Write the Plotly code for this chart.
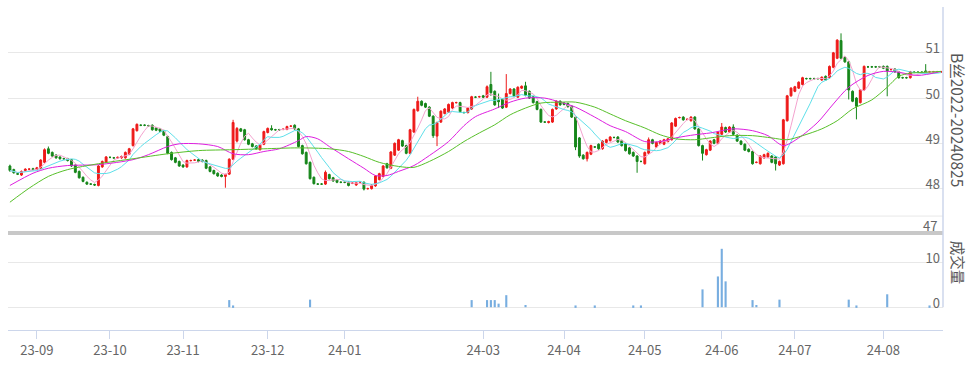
import plotly.graph_objects as go
import pandas as pd

# ---------------- data ----------------
month_labels = ["23-08", "23-09", "23-10", "23-11", "23-12", "24-01", "24-02",
                "24-03", "24-04", "24-05", "24-06", "24-07", "24-08"]
month_days = [7, 19, 19, 22, 20, 21, 15, 21, 21, 20, 19, 23, 16]
shown_months = ["23-09", "23-10", "23-11", "23-12", "24-01", "24-03",
                "24-04", "24-05", "24-06", "24-07", "24-08"]

opens = [48.50, 48.42, 48.33, 48.30, 48.40, 48.43, 48.44, 48.42, 48.45, 48.58,
         48.88, 48.80, 48.74, 48.70, 48.66, 48.66, 48.64, 48.52, 48.38, 48.25,
         48.14, 48.10, 48.09, 48.07, 48.48, 48.58, 48.69, 48.68, 48.68, 48.68,
         48.68, 48.76, 48.95, 49.28, 49.40, 49.40, 49.39, 49.40, 49.34, 49.32,
         49.28, 49.15, 48.80, 48.68, 48.60, 48.52, 48.48, 48.62, 48.63, 48.64,
         48.63, 48.62, 48.48, 48.40, 48.34, 48.30, 48.27, 48.32, 48.65, 49.05,
         49.32, 49.30, 49.08, 48.99, 48.94, 48.86, 48.98, 49.24, 49.33, 49.30,
         49.30, 49.31, 49.31, 49.38, 49.40, 49.32, 48.95, 48.80, 48.58, 48.25,
         48.10, 48.10, 48.10, 48.31, 48.24, 48.19, 48.14, 48.14, 48.14, 48.12,
         48.08, 48.14, 48.14, 48.00, 48.00, 48.06, 48.20, 48.27, 48.55, 48.45,
         48.74, 48.85, 49.06, 48.95, 48.78, 49.25, 49.72, 49.93, 49.88, 49.80,
         49.60, 49.16, 49.47, 49.66, 49.69, 49.78, 49.90, 49.90, 49.68, 49.68,
         49.76, 50.02, 50.03, 50.05, 50.02, 50.30, 50.15, 49.95, 49.98, 49.80,
         50.10, 50.20, 50.02, 50.22, 50.27, 50.15, 50.03, 49.92, 49.75, 49.47,
         49.46, 49.47, 49.76, 49.93, 49.89, 49.88, 49.82, 49.58, 49.12, 48.74,
         48.66, 48.76, 48.92, 48.98, 48.88, 49.02, 49.06, 49.13, 49.14, 49.06,
         48.99, 48.90, 48.80, 48.72, 48.60, 48.55, 48.78, 49.08, 48.92, 49.00,
         48.98, 49.04, 49.08, 49.38, 49.57, 49.58, 49.53, 49.50, 49.58, 49.32,
         48.95, 48.75, 48.85, 49.08, 49.00, 49.20, 49.35, 49.25, 49.36, 49.18,
         49.05, 48.98, 48.87, 48.82, 48.58, 48.55, 48.68, 48.70, 48.72, 48.70,
         48.52, 48.55, 49.50, 50.05, 50.15, 50.22, 50.30, 50.43, 50.43, 50.43,
         50.43, 50.40, 50.48, 50.45, 50.68, 50.88, 51.27, 50.90, 50.80, 50.15,
         50.00, 49.90, 50.18, 50.69, 50.69, 50.69, 50.69, 50.70, 50.70, 50.63,
         50.64, 50.58, 50.45, 50.45, 50.45, 50.57, 50.57, 50.57, 50.60, 50.58,
         50.58, 50.58, 50.58]

closes = [48.40, 48.35, 48.32, 48.38, 48.43, 48.43, 48.42, 48.46, 48.63, 48.86,
          48.78, 48.72, 48.68, 48.66, 48.66, 48.62, 48.50, 48.36, 48.24, 48.16,
          48.10, 48.10, 48.08, 48.50, 48.60, 48.70, 48.69, 48.68, 48.69, 48.71,
          48.80, 48.88, 49.32, 49.42, 49.40, 49.40, 49.39, 49.30, 49.29, 49.27,
          49.18, 48.78, 48.64, 48.58, 48.50, 48.48, 48.62, 48.62, 48.63, 48.60,
          48.60, 48.45, 48.38, 48.33, 48.28, 48.27, 48.31, 48.65, 49.46, 49.33,
          49.27, 49.08, 48.98, 48.93, 48.88, 48.96, 49.26, 49.33, 49.30, 49.30,
          49.30, 49.31, 49.37, 49.38, 49.32, 48.93, 48.77, 48.55, 48.22, 48.11,
          48.10, 48.10, 48.36, 48.22, 48.17, 48.14, 48.14, 48.14, 48.07, 48.12,
          48.13, 48.14, 47.99, 48.00, 48.08, 48.28, 48.33, 48.50, 48.46, 48.81,
          49.00, 49.08, 48.94, 48.78, 49.30, 49.75, 49.93, 49.84, 49.80, 49.60,
          49.17, 49.46, 49.71, 49.76, 49.86, 49.90, 49.90, 49.70, 49.68, 49.78,
          50.03, 50.02, 50.03, 50.02, 50.25, 50.12, 49.85, 49.92, 49.78, 50.10,
          50.20, 50.05, 50.24, 50.26, 50.06, 50.00, 49.90, 49.75, 49.47, 49.47,
          49.48, 49.75, 49.93, 49.85, 49.86, 49.81, 49.58, 48.92, 48.72, 48.66,
          48.80, 48.95, 48.92, 48.88, 49.05, 49.08, 49.14, 49.13, 49.03, 48.95,
          48.84, 48.77, 48.72, 48.60, 48.60, 48.80, 49.08, 49.00, 49.02, 49.05,
          49.08, 49.10, 49.45, 49.55, 49.57, 49.52, 49.53, 49.58, 49.32, 48.95,
          48.78, 48.86, 49.05, 49.00, 49.25, 49.36, 49.25, 49.36, 49.20, 49.05,
          48.98, 48.85, 48.82, 48.55, 48.58, 48.72, 48.75, 48.78, 48.58, 48.55,
          48.60, 49.52, 50.05, 50.22, 50.25, 50.35, 50.45, 50.43, 50.43, 50.43,
          50.43, 50.46, 50.40, 50.70, 51.00, 51.28, 50.88, 50.80, 50.18, 49.93,
          49.82, 50.18, 50.70, 50.69, 50.69, 50.69, 50.69, 50.66, 50.60, 50.63,
          50.58, 50.45, 50.45, 50.45, 50.58, 50.57, 50.57, 50.57, 50.57, 50.58,
          50.58, 50.58, 50.58]

highs = [48.53, 48.44, 48.35, 48.40, 48.45, 48.45, 48.46, 48.48, 48.65, 48.89,
         48.93, 48.82, 48.76, 48.71, 48.68, 48.68, 48.65, 48.53, 48.40, 48.27,
         48.16, 48.12, 48.11, 48.52, 48.62, 48.72, 48.71, 48.70, 48.71, 48.73,
         48.82, 48.90, 49.34, 49.44, 49.42, 49.42, 49.41, 49.42, 49.36, 49.34,
         49.30, 49.17, 48.82, 48.70, 48.62, 48.54, 48.64, 48.64, 48.65, 48.66,
         48.65, 48.64, 48.50, 48.42, 48.36, 48.32, 48.33, 48.67, 49.52, 49.36,
         49.34, 49.32, 49.10, 49.01, 48.96, 48.98, 49.28, 49.35, 49.40, 49.32,
         49.32, 49.33, 49.39, 49.40, 49.42, 49.34, 48.97, 48.82, 48.60, 48.27,
         48.12, 48.12, 48.40, 48.33, 48.26, 48.21, 48.16, 48.16, 48.16, 48.14,
         48.15, 48.16, 48.16, 48.02, 48.10, 48.30, 48.35, 48.52, 48.57, 48.83,
         49.02, 49.10, 49.08, 48.97, 49.32, 49.77, 50.03, 49.95, 49.90, 49.82,
         49.62, 49.48, 49.73, 49.78, 49.88, 49.92, 49.92, 49.92, 49.70, 49.80,
         50.05, 50.04, 50.05, 50.07, 50.28, 50.58, 50.17, 50.10, 50.00, 50.53,
         50.22, 50.22, 50.26, 50.28, 50.36, 50.17, 50.05, 49.94, 49.77, 49.49,
         49.50, 49.77, 49.95, 49.95, 49.91, 49.90, 49.84, 49.60, 49.14, 48.76,
         48.82, 48.97, 48.94, 49.00, 49.07, 49.10, 49.16, 49.15, 49.16, 49.08,
         49.01, 48.92, 48.82, 48.74, 48.62, 48.82, 49.13, 49.10, 49.04, 49.07,
         49.10, 49.12, 49.47, 49.57, 49.59, 49.60, 49.55, 49.60, 49.60, 49.34,
         48.97, 48.88, 49.07, 49.10, 49.27, 49.45, 49.37, 49.38, 49.42, 49.20,
         49.07, 49.00, 48.89, 48.84, 48.60, 48.74, 48.77, 48.80, 48.74, 48.72,
         48.62, 49.54, 50.07, 50.24, 50.27, 50.37, 50.47, 50.45, 50.45, 50.45,
         50.45, 50.48, 50.50, 50.72, 51.02, 51.30, 51.43, 50.92, 50.82, 50.17,
         50.02, 50.20, 50.72, 50.71, 50.71, 50.71, 50.71, 50.72, 50.72, 50.65,
         50.66, 50.60, 50.47, 50.47, 50.60, 50.59, 50.59, 50.59, 50.75, 50.60,
         50.60, 50.60, 50.60]

lows = [48.37, 48.33, 48.30, 48.28, 48.39, 48.42, 48.41, 48.41, 48.44, 48.56,
        48.76, 48.70, 48.66, 48.64, 48.64, 48.60, 48.48, 48.34, 48.22, 48.14,
        48.08, 48.08, 48.06, 48.05, 48.46, 48.56, 48.67, 48.66, 48.66, 48.66,
        48.66, 48.74, 48.93, 49.26, 49.38, 49.38, 49.37, 49.28, 49.27, 49.25,
        49.16, 48.76, 48.62, 48.56, 48.48, 48.46, 48.46, 48.60, 48.61, 48.58,
        48.58, 48.43, 48.36, 48.31, 48.26, 48.25, 48.02, 48.30, 48.63, 49.02,
        49.25, 49.06, 48.96, 48.91, 48.86, 48.84, 48.96, 49.22, 49.28, 49.28,
        49.28, 49.29, 49.29, 49.36, 49.30, 48.91, 48.75, 48.53, 48.20, 48.09,
        48.08, 48.08, 48.08, 48.20, 48.15, 48.12, 48.12, 48.12, 48.05, 48.10,
        48.06, 48.12, 47.96, 47.98, 47.98, 48.04, 48.18, 48.25, 48.44, 48.43,
        48.72, 48.83, 48.92, 48.76, 48.76, 49.23, 49.70, 49.82, 49.78, 49.58,
        49.12, 48.94, 49.45, 49.64, 49.67, 49.76, 49.88, 49.68, 49.66, 49.66,
        49.74, 50.00, 50.01, 50.00, 50.00, 50.05, 49.83, 49.78, 49.76, 49.78,
        50.08, 50.03, 50.00, 50.20, 50.04, 49.98, 49.88, 49.73, 49.45, 49.45,
        49.44, 49.45, 49.74, 49.83, 49.84, 49.79, 49.56, 48.85, 48.68, 48.64,
        48.60, 48.74, 48.90, 48.86, 48.86, 49.00, 49.04, 49.11, 49.01, 48.93,
        48.82, 48.75, 48.70, 48.35, 48.58, 48.53, 48.76, 48.98, 48.90, 48.98,
        48.96, 49.02, 49.06, 49.36, 49.55, 49.50, 49.51, 49.48, 49.30, 48.93,
        48.62, 48.73, 48.83, 48.98, 48.98, 49.18, 49.23, 49.23, 49.18, 49.03,
        48.96, 48.83, 48.80, 48.53, 48.56, 48.53, 48.66, 48.68, 48.56, 48.40,
        48.50, 48.53, 49.48, 50.03, 50.13, 50.20, 50.28, 50.41, 50.41, 50.41,
        50.41, 50.38, 50.38, 50.43, 50.66, 50.86, 50.86, 50.78, 49.97, 49.91,
        49.53, 49.88, 50.16, 50.67, 50.67, 50.67, 50.67, 50.64, 50.04, 50.61,
        50.56, 50.43, 50.43, 50.43, 50.43, 50.55, 50.55, 50.55, 50.55, 50.56,
        50.56, 50.56, 50.56]

# long moving averages (candle index, price)
ma20_idx = [0, 6, 10, 15, 23, 32, 36, 41, 44, 49, 54, 58, 62, 66, 70, 75, 77, 80,
            83, 88, 92, 95, 98, 101, 105, 109, 114, 118, 121, 126, 130, 134, 139,
            143, 147, 152, 156, 160, 165, 169, 173, 178, 182, 188, 193, 197, 201,
            205, 210, 214, 218, 223, 227, 231, 236, 242]
ma20_val = [48.07, 48.34, 48.45, 48.51, 48.53, 48.64, 48.75, 48.93, 48.99, 48.99,
            48.93, 48.77, 48.75, 48.82, 48.88, 49.06, 49.15, 49.10, 48.93, 48.66,
            48.45, 48.29, 48.29, 48.38, 48.51, 48.73, 49.04, 49.39, 49.59, 49.76,
            49.91, 50.00, 50.00, 49.91, 49.80, 49.58, 49.39, 49.26, 49.04, 49.04,
            49.12, 49.19, 49.23, 49.32, 49.28, 49.17, 48.95, 49.12, 49.47, 49.87,
            50.24, 50.50, 50.59, 50.57, 50.50, 50.59]

ma60_idx = [0, 5, 10, 15, 23, 32, 41, 49, 58, 66, 75, 83, 88, 92, 96, 101, 105,
            109, 114, 118, 122, 126, 130, 134, 138, 143, 147, 152, 156, 160, 165,
            169, 173, 178, 182, 187, 193, 198, 202, 206, 211, 215, 219, 224, 228,
            231, 234, 238, 242]
ma60_val = [47.70, 48.01, 48.27, 48.42, 48.55, 48.66, 48.77, 48.84, 48.86, 48.88,
            48.90, 48.88, 48.82, 48.71, 48.58, 48.49, 48.47, 48.60, 48.82, 49.04,
            49.23, 49.41, 49.63, 49.78, 49.89, 49.91, 49.91, 49.80, 49.65, 49.50,
            49.34, 49.19, 49.10, 49.08, 49.12, 49.17, 49.17, 49.12, 49.08, 49.17,
            49.32, 49.50, 49.76, 49.96, 50.24, 50.48, 50.55, 50.57, 50.59]

vol_idx = [57, 58, 78, 120, 124, 125, 126, 127, 129, 134, 147, 152, 162, 164,
           180, 184, 185, 186, 193, 194, 200, 218, 220, 228, 239]
vol_val = [1.6, 0.4, 1.7, 1.6, 1.6, 1.6, 1.6, 0.8, 2.7, 0.5, 0.4, 0.4, 0.4, 0.4,
           4.0, 6.9, 13.1, 5.8, 1.6, 0.5, 1.7, 1.7, 0.4, 2.9, 0.4]

price_ticks = [47, 48, 49, 50, 51]
volume_ticks = [0, 10]
title_text = "B丝2022-20240825"
vol_title = "成交量"

# ---------------- build ----------------
x = list(range(len(closes)))
tick_vals, tick_text = [], []
pos = 0
for lab, n in zip(month_labels, month_days):
    if lab in shown_months:
        tick_vals.append(pos)
        tick_text.append(lab)
    pos += n

close_s = pd.Series(closes)
ma5 = close_s.rolling(5, min_periods=1).mean()
ma10 = close_s.rolling(10, min_periods=1).mean()

RED = "#ee1a1a"
GREEN = "#16861a"
FONT = "Noto Sans CJK SC, Noto Sans, sans-serif"

fig = go.Figure()
fig.add_trace(go.Candlestick(
    x=x, open=opens, high=highs, low=lows, close=closes,
    increasing=dict(line=dict(color=RED, width=1), fillcolor=RED),
    decreasing=dict(line=dict(color=GREEN, width=1), fillcolor=GREEN),
    xaxis="x", yaxis="y", hoverinfo="skip"))
fig.add_trace(go.Scatter(x=x, y=ma5, mode="lines",
                         line=dict(color="#f4a3cf", width=1), xaxis="x", yaxis="y"))
fig.add_trace(go.Scatter(x=x, y=ma10, mode="lines",
                         line=dict(color="#5fe0ea", width=1), xaxis="x", yaxis="y"))
fig.add_trace(go.Scatter(x=ma20_idx, y=ma20_val, mode="lines",
                         line=dict(color="#de1fe0", width=1, shape="spline", smoothing=0.8),
                         xaxis="x", yaxis="y"))
fig.add_trace(go.Scatter(x=ma60_idx, y=ma60_val, mode="lines",
                         line=dict(color="#58c02a", width=1, shape="spline", smoothing=0.8),
                         xaxis="x", yaxis="y"))
fig.add_trace(go.Bar(x=vol_idx, y=vol_val, marker=dict(color="#78aee0", line=dict(width=0)),
                     width=0.55, xaxis="x2", yaxis="y2"))

H_PLOT = 367 - 8 - 34
def py(pix):
    return 1 - (pix - 8) / H_PLOT

xr = [-0.5, len(closes) - 0.5]
price_lo = price_ticks[0]
fig.update_layout(
    width=974, height=367,
    margin=dict(l=8, r=31, t=8, b=34),
    paper_bgcolor="white", plot_bgcolor="white",
    showlegend=False,
    font=dict(family=FONT, size=13, color="#666"),
    xaxis=dict(domain=[0, 1], range=xr, anchor="y", showticklabels=False,
               showgrid=False, zeroline=False, rangeslider=dict(visible=False),
               fixedrange=True),
    xaxis2=dict(domain=[0, 1], range=xr, anchor="y2", tickvals=tick_vals,
                ticktext=tick_text, ticks="outside", ticklen=8, tickcolor="#ccd6eb",
                showline=True, linecolor="#ccd6eb", linewidth=1,
                showgrid=False, zeroline=False,
                tickfont=dict(family=FONT, size=13, color="#666")),
    yaxis=dict(domain=[py(236), 1], range=[price_lo, 51.99], side="right",
               tickvals=price_ticks[1:], ticklabelposition="inside top",
               ticklabelshift=5,
               gridcolor="#e8e8e8", showline=False, zeroline=False,
               tickfont=dict(family=FONT, size=13, color="#666")),
    yaxis2=dict(domain=[0, py(238)], range=[-5.11, 16], side="right",
                tickvals=volume_ticks, ticklabelposition="inside top",
                ticklabelshift=5,
                gridcolor="#e8e8e8", showline=False, zeroline=False,
                tickfont=dict(family=FONT, size=13, color="#666")),
    shapes=[
        dict(type="line", xref="paper", yref="paper", x0=0, x1=1,
             y0=py(218), y1=py(218), line=dict(color="#e8e8e8", width=1)),
        dict(type="line", xref="paper", yref="paper", x0=0, x1=1,
             y0=py(235), y1=py(235), line=dict(color="#c8c8c8", width=4)),
        dict(type="line", xref="paper", yref="paper", x0=1, x1=1,
             y0=py(310), y1=py(7), line=dict(color="#ccd6eb", width=1.5)),
    ],
    annotations=[
        dict(text=str(price_lo), xref="paper", yref="paper", x=(939 - 8) / 935, y=py(228),
             xanchor="right", yanchor="middle", showarrow=False,
             font=dict(family=FONT, size=13, color="#666")),
        dict(text=title_text, xref="paper", yref="paper", x=(958 - 8) / 935, y=py(121),
             xanchor="center", yanchor="middle", textangle=90, showarrow=False,
             font=dict(family=FONT, size=15.5, color="#555")),
        dict(text=vol_title, xref="paper", yref="paper", x=(958 - 8) / 935, y=py(265),
             xanchor="center", yanchor="middle", textangle=90, showarrow=False,
             font=dict(family=FONT, size=14.5, color="#555")),
    ],
)

fig.write_html("out.html", config={"displayModeBar": False},
               post_script="document.body.style.margin='0px';document.body.style.overflow='hidden';")
